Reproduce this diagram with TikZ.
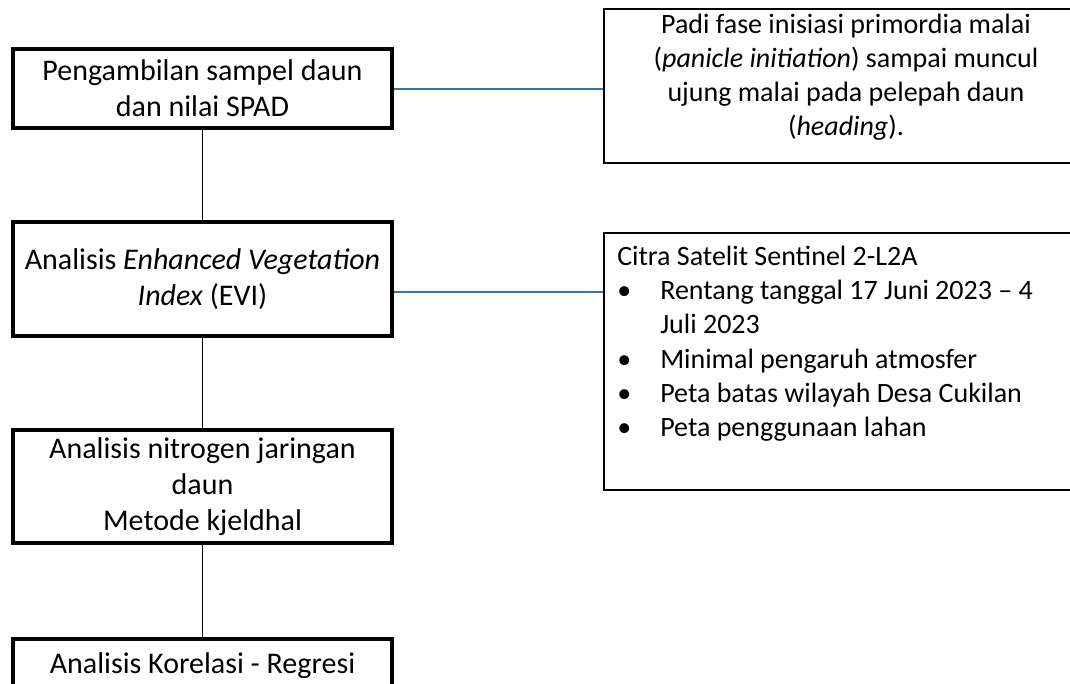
\documentclass[tikz,border=0pt]{standalone}
\usepackage{fontspec}
\setmainfont{Carlito}
\definecolor{conblue}{RGB}{46,117,182}
\begin{document}
\begin{tikzpicture}[x=0.75pt,y=-0.75pt,
  txt/.style={font=\fontsize{21}{25.6}\selectfont},
  ltxt/.style={font=\fontsize{22.5}{27.2}\selectfont},
  lbox/.style={ltxt,draw,line width=3.4pt,minimum width=284.25pt,align=center,inner sep=0pt},
  rbox/.style={draw,line width=1.3pt,inner sep=0pt},
  link/.style={line width=1.2pt},
  blink/.style={draw=conblue,line width=1.2pt}]
\useasboundingbox (0,0) rectangle (1070,683);
% left column
\node[lbox,minimum height=59.25pt] (b1) at (202.5,88.5) {Pengambilan sampel daun\\dan nilai SPAD};
\node[lbox,minimum height=85.5pt] (b2) at (202.5,279) {Analisis \textit{Enhanced Vegetation}\\\textit{Index} (EVI)};
\node[lbox,minimum height=84.75pt] (b3) at (202.5,486.5) {Analisis nitrogen jaringan\\daun\\Metode kjeldhal};
\node[lbox,minimum height=40.5pt] (b4) at (202.5,666) {Analisis Korelasi - Regresi};
\draw[link] (b1.south) -- (b2.north);
\draw[link] (b2.south) -- (b3.north);
\draw[link] (b3.south) -- (b4.north);
% right column
\node[rbox,minimum width=360.75pt,minimum height=115.5pt] (r1) at (844.5,86) {};
\node[txt,align=center,inner sep=0pt] (r1t) at (846,77)
  {Padi fase inisiasi primordia malai\\(\textit{panicle initiation}) sampai muncul\\ujung malai pada pelepah daun\\(\textit{heading}).};
\node[rbox,minimum width=360.75pt,minimum height=192.75pt] (r2) at (844.5,361.5) {};
\node[txt,align=left,anchor=north west,inner sep=0pt] (r2t) at (617,246)
  {Citra Satelit Sentinel 2-L2A\\
   \makebox[32.25pt][l]{•}Rentang tanggal 17 Juni 2023 – 4\\
   \makebox[32.25pt][l]{}Juli 2023\\
   \makebox[32.25pt][l]{•}Minimal pengaruh atmosfer\\
   \makebox[32.25pt][l]{•}Peta batas wilayah Desa Cukilan\\
   \makebox[32.25pt][l]{•}Peta penggunaan lahan};
\draw[blink] (b1.east |- 0,89) -- (r1.west |- 0,89);
\draw[blink] (b2.east |- 0,292) -- (r2.west |- 0,292);
\end{tikzpicture}
\end{document}
